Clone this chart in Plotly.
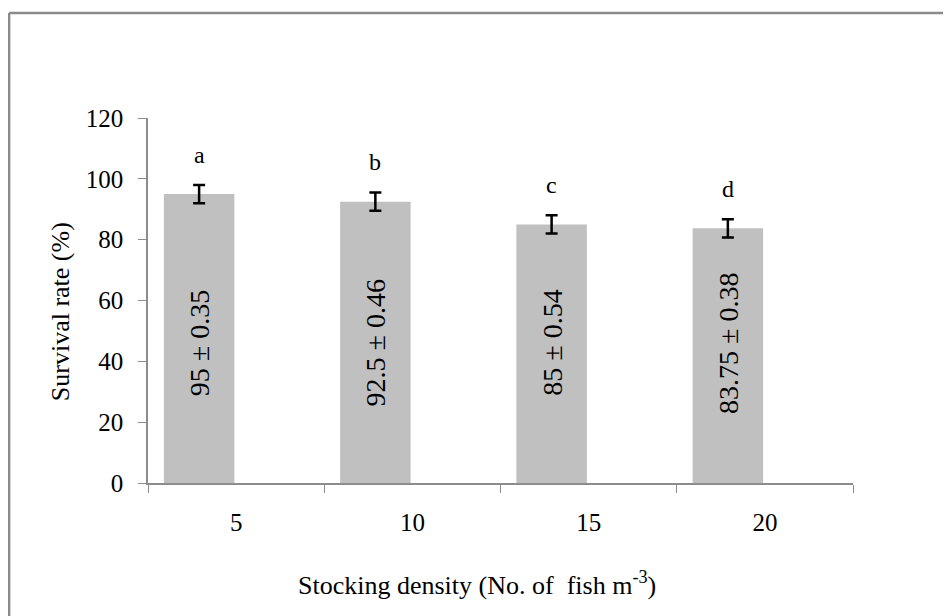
import plotly.graph_objects as go

# ---- data ----
densities = ["5", "10", "15", "20"]
survival = [95, 92.5, 85, 83.75]
error_bar = [3, 3, 3, 3]
sem_text = ["95 ± 0.35", "92.5 ± 0.46", "85 ± 0.54", "83.75 ± 0.38"]
letters = ["a", "b", "c", "d"]
y_ticks = [0, 20, 40, 60, 80, 100, 120]
x_title = "Stocking density (No. of  fish m<sup>-3</sup>)"
y_title = "Survival rate (%)"

FONT = "Liberation Serif"
BAR_W = 0.4
BAR_SHIFT = -0.21  # bar centre relative to category centre

fig = go.Figure()
fig.add_trace(go.Bar(
    x=densities,
    y=survival,
    width=BAR_W,
    offset=BAR_SHIFT - BAR_W / 2,
    marker=dict(color="#C0C0C0", line=dict(width=0)),
    error_y=dict(type="data", array=error_bar, color="black", thickness=2.5, width=6),
    hoverinfo="skip",
))

annotations = []
for i, (v, e, lt, st) in enumerate(zip(survival, error_bar, letters, sem_text)):
    annotations.append(dict(
        x=i + BAR_SHIFT, y=v + e + 5, xref="x", yref="y", text=lt, showarrow=False,
        yanchor="bottom", font=dict(family=FONT, size=24, color="black"),
    ))
    annotations.append(dict(
        x=i + BAR_SHIFT, y=46, xref="x", yref="y", text=st, showarrow=False,
        textangle=-90, font=dict(family=FONT, size=28, color="black"),
    ))

# axis titles
annotations.append(dict(
    x=0.467, y=-0.274, xref="paper", yref="paper", text=x_title, showarrow=False,
    xanchor="center", yanchor="middle", font=dict(family=FONT, size=26, color="black"),
))
annotations.append(dict(
    x=-0.1248, y=0.468, xref="paper", yref="paper", text=y_title, showarrow=False,
    textangle=-90, xanchor="center", yanchor="middle",
    font=dict(family=FONT, size=26, color="black"),
))

fig.update_layout(
    width=951, height=616,
    margin=dict(l=140, r=106, t=110, b=141),
    paper_bgcolor="white", plot_bgcolor="white",
    showlegend=False,
    font=dict(family=FONT, size=25, color="black"),
    annotations=annotations,
    shapes=[
        dict(type="line", xref="paper", yref="paper", x0=-0.197, x1=1.3, y0=1.2877, y1=1.2877,
             line=dict(color="#8a8a8a", width=2.5)),
        dict(type="line", xref="paper", yref="paper", x0=-0.197, x1=-0.197, y0=-0.5, y1=1.2877,
             line=dict(color="#8a8a8a", width=2.5)),
    ],
)

fig.update_xaxes(
    type="category", range=[-0.5, 3.5],
    showline=True, linecolor="#8c8c8c", linewidth=1.5,
    ticks="outside", tickson="boundaries", ticklen=8, tickcolor="#8c8c8c",
    ticklabelstandoff=16,
    showgrid=False, zeroline=False,
    tickfont=dict(family=FONT, size=25, color="black"),
)
fig.update_yaxes(
    range=[0, 120], tickvals=y_ticks,
    showline=True, linecolor="#8c8c8c", linewidth=1.5,
    ticks="outside", ticklen=8, tickcolor="#8c8c8c",
    ticklabelstandoff=10,
    showgrid=False, zeroline=False,
    tickfont=dict(family=FONT, size=25, color="black"),
)

fig.write_html("out.html")
